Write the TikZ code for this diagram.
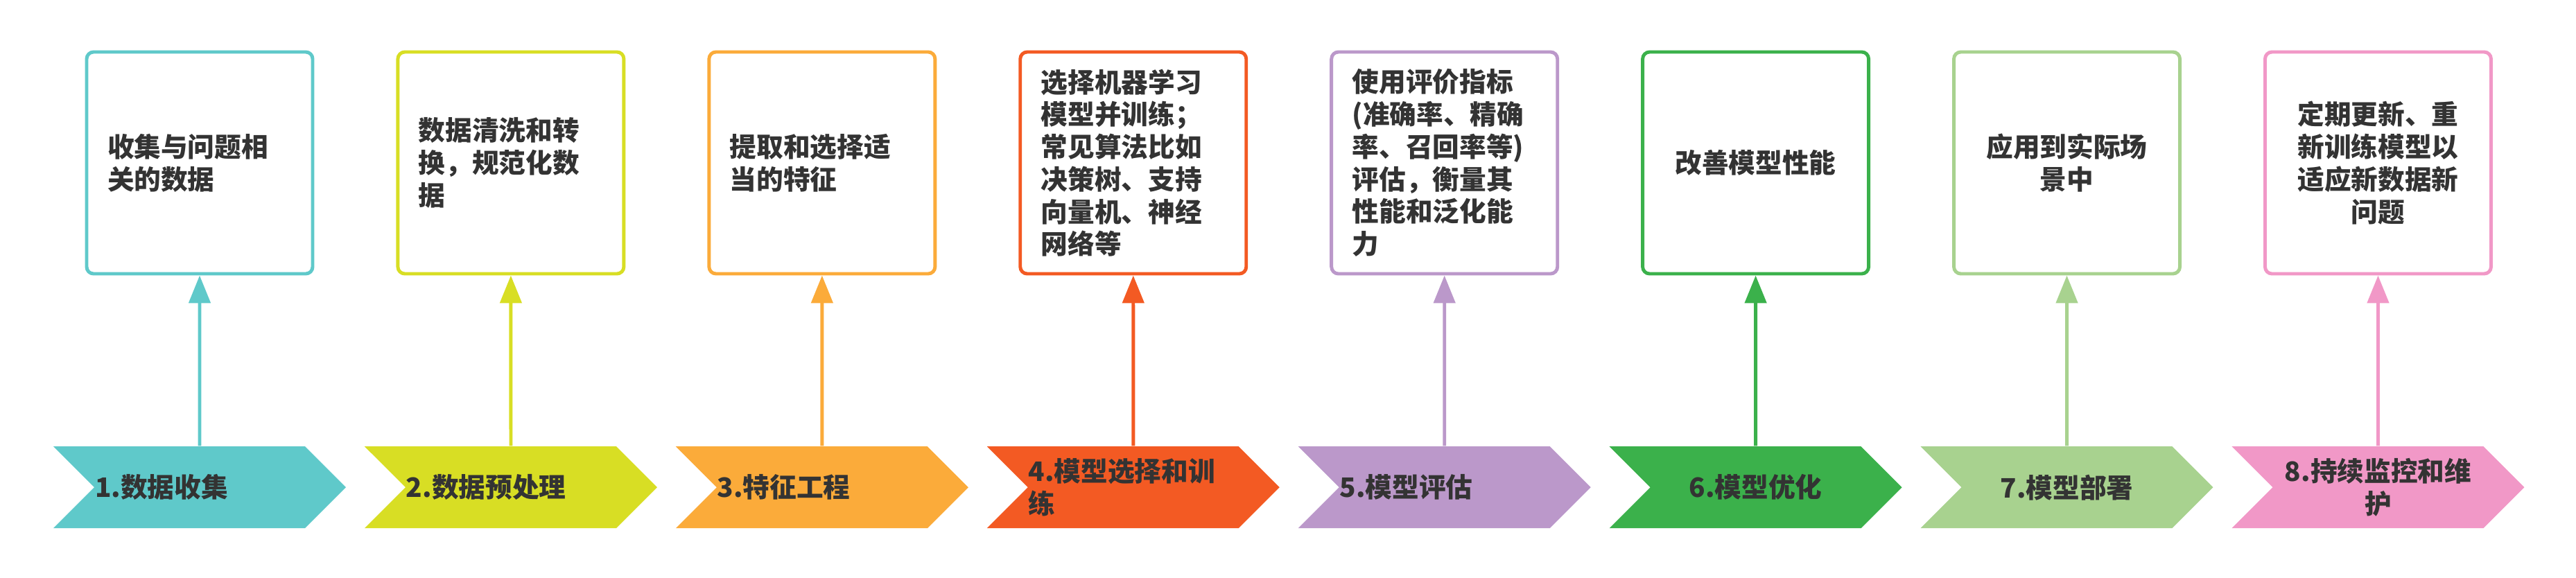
\documentclass[tikz,border=0pt]{standalone}
\usepackage{fontspec}
\setmainfont{Noto Sans CJK SC}
\usetikzlibrary{positioning, shapes.symbols, arrows.meta}
\definecolor{textgray}{HTML}{333333}
\definecolor{teal1}{HTML}{5FC9CA}
\definecolor{lime2}{HTML}{D8DE24}
\definecolor{orange3}{HTML}{FBAB3A}
\definecolor{red4}{HTML}{F35A23}
\definecolor{purple5}{HTML}{BB98CA}
\definecolor{green6}{HTML}{3BB14B}
\definecolor{lightgreen7}{HTML}{A8D28F}
\definecolor{pink8}{HTML}{F198C7}

\begin{document}
\begin{tikzpicture}[
        node distance=1.18cm,
        font=\fontsize{11pt}{13.3pt}\selectfont\bfseries,
        card/.style={rectangle, draw=#1, line width=1.4pt, rounded corners=0.1cm, fill=white, text=textgray, minimum width=3.26cm, minimum height=3.2cm, inner sep=0pt, text width=2.66cm, align=left},
        cardc/.style={card=#1, align=center},
        stage/.style={signal, signal to=east, signal from=west, fill=#1, text=textgray, minimum width=4.22cm, minimum height=1.18cm, inner sep=0pt, text width=3.02cm, align=left},
        stagec/.style={stage=#1, align=center},
        arrow/.style={-{Triangle[length=0.4cm, width=0.31cm]}, line width=1.4pt, draw=#1}
    ]
    \useasboundingbox (0,0) rectangle (37.16,8.33);

    \node (card1) [card=teal1] at (2.88,5.98) {收集与问题相\\关的数据};
    \node (card2) [card=lime2, right=of card1] {数据清洗和转\\换，规范化数\\据};
    \node (card3) [card=orange3, right=of card2] {提取和选择适\\当的特征};
    \node (card4) [card=red4, right=of card3] {选择机器学习\\模型并训练；\\常见算法比如\\决策树、支持\\向量机、神经\\网络等};
    \node (card5) [card=purple5, right=of card4] {使用评价指标\\(准确率、精确\\率、召回率等)\\评估，衡量其\\性能和泛化能\\力};
    \node (card6) [cardc=green6, right=of card5] {改善模型性能};
    \node (card7) [cardc=lightgreen7, right=of card6] {应用到实际场\\景中};
    \node (card8) [cardc=pink8, right=of card7] {定期更新、重\\新训练模型以\\适应新数据新\\问题};

    \node (stage1) [stage=teal1, below=2.46cm of card1] {1.数据收集};
    \node (stage2) [stage=lime2, below=2.46cm of card2] {2.数据预处理};
    \node (stage3) [stage=orange3, below=2.46cm of card3] {3.特征工程};
    \node (stage4) [stage=red4, below=2.46cm of card4] {4.模型选择和训\\练};
    \node (stage5) [stage=purple5, below=2.46cm of card5] {5.模型评估};
    \node (stage6) [stagec=green6, below=2.46cm of card6] {6.模型优化};
    \node (stage7) [stagec=lightgreen7, below=2.46cm of card7] {7.模型部署};
    \node (stage8) [stagec=pink8, below=2.46cm of card8] {8.持续监控和维\\护};

    \draw [arrow=teal1] (stage1) -- (card1);
    \draw [arrow=lime2] (stage2) -- (card2);
    \draw [arrow=orange3] (stage3) -- (card3);
    \draw [arrow=red4] (stage4) -- (card4);
    \draw [arrow=purple5] (stage5) -- (card5);
    \draw [arrow=green6] (stage6) -- (card6);
    \draw [arrow=lightgreen7] (stage7) -- (card7);
    \draw [arrow=pink8] (stage8) -- (card8);

    \end{tikzpicture}
\end{document}
